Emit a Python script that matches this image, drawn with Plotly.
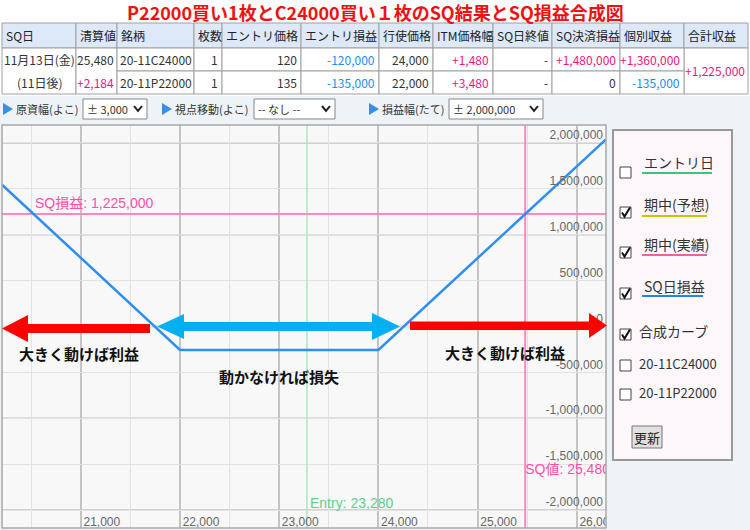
import plotly.graph_objects as go

W, H = 750, 530

# ---------------- data ----------------
underlying = [20205, 22000, 24000, 26295]
sq_pnl = [1545000, -255000, -255000, 2040000]
entry_price = 23280
sq_price = 25480
sq_total = 1225000

x_ticks = [21000, 22000, 23000, 24000, 25000, 26000]
x_tick_labels = ["21,000", "22,000", "23,000", "24,000", "25,000", "26,000"]
y_ticks = [-2000000, -1500000, -1000000, -500000, 0, 500000, 1000000, 1500000, 2000000]
y_tick_labels = ["-2,000,000", "-1,500,000", "-1,000,000", "-500,000", "0",
                 "500,000", "1,000,000", "1,500,000", "2,000,000"]
y_major = [-2000000, -1000000, 0, 1000000, 2000000]

title = "P22000買い1枚とC24000買い１枚のSQ結果とSQ損益合成図"
table_header = ["SQ日", "清算値", "銘柄", "枚数", "エントリ価格", "エントリ損益", "行使価格",
                "ITM価格幅", "SQ日終値", "SQ決済損益", "個別収益", "合計収益"]
sq_day = ["11月13日(金)", "(11日後)"]
settle = ["25,480", "+2,184"]
symbols = ["20-11C24000", "20-11P22000"]
lots = ["1", "1"]
entry_prices = ["120", "135"]
entry_pnl = ["-120,000", "-135,000"]
strikes = ["24,000", "22,000"]
itm_width = ["+1,480", "+3,480"]
sq_close = ["-", "-"]
sq_settle_pnl = ["+1,480,000", "0"]
indiv_pnl = ["+1,360,000", "-135,000"]
total_pnl = "+1,225,000"

controls = [("原資幅(よこ)", "± 3,000"), ("視点移動(よこ)", "-- なし --"), ("損益幅(たて)", "± 2,000,000")]
legend_items = [("エントリ日", False, "#3cc47c"), ("期中(予想)", True, "#c8c400"),
                ("期中(実績)", True, "#f0609a"), ("SQ日損益", True, "#1e88f0")]
extra_items = [("合成カーブ", True), ("20-11C24000", False), ("20-11P22000", False)]

# ---------------- helpers ----------------
JP = "Noto Sans CJK JP"
AR = "Liberation Sans, Noto Sans CJK JP"
PINK_T = "#e8197d"
BLUE_T = "#1a8cff"

shapes = []
annots = []


def rect(x0, y0, x1, y1, fill=None, line=None, lw=1, layer="above"):
    d = dict(type="rect", xref="paper", yref="paper", x0=x0 / W, x1=x1 / W,
             y0=1 - y1 / H, y1=1 - y0 / H, layer=layer,
             line=dict(color=line or "rgba(0,0,0,0)", width=lw if line else 0))
    if fill:
        d["fillcolor"] = fill
    shapes.append(d)


def path(pts, fill=None, line=None, lw=1, closed=True, layer="above"):
    s = "M " + " L ".join(f"{x / W:.5f},{1 - y / H:.5f}" for x, y in pts)
    if closed:
        s += " Z"
    d = dict(type="path", xref="paper", yref="paper", path=s, layer=layer,
             line=dict(color=line or "rgba(0,0,0,0)", width=lw if line else 0))
    if fill:
        d["fillcolor"] = fill
    shapes.append(d)


def text(x, y, t, size=12, color="#333", anchor="left", family=JP, bold=False):
    annots.append(dict(x=x / W, y=1 - y / H, xref="paper", yref="paper", text=t,
                       showarrow=False, xanchor=anchor, yanchor="middle",
                       font=dict(size=size, color=color, family=family,
                                 weight="bold" if bold else "normal")))


def vcolor(v):
    if v.startswith("+"):
        return PINK_T
    if v.startswith("-") and len(v) > 1 and v[1].isdigit():
        return BLUE_T
    return "#333"


# ---------------- page background ----------------
rect(0, 0, 750, 96, fill="white", layer="below")

# ---------------- title ----------------
text(375, 12, title, size=18, color="#ee1111", anchor="center", bold=True)

# ---------------- table ----------------
cx = [2, 76, 117, 194, 222, 301, 379, 433, 493, 552, 620, 684, 748]
ry = [23, 48, 71, 94]
for i, h in enumerate(table_header):
    rect(cx[i], ry[0], cx[i + 1], ry[1], fill="#dde8f8", line="#a0a0a0", lw=1)
    text(cx[i] + 2, (ry[0] + ry[1]) / 2, h, size=12, color="#222")
for i in (0, 1, 11):
    rect(cx[i], ry[1], cx[i + 1], ry[3], fill="white", line="#a0a0a0", lw=1)
for r in range(2):
    for i in range(2, 11):
        rect(cx[i], ry[1 + r], cx[i + 1], ry[2 + r], fill="white", line="#a0a0a0", lw=1)

text((cx[0] + cx[1]) / 2, 60, sq_day[0], anchor="center")
text((cx[0] + cx[1]) / 2, 83, sq_day[1], anchor="center")
text(cx[2] - 1, 60, settle[0], color=vcolor(settle[0]), anchor="right")
text(cx[2] - 1, 83, settle[1], color=vcolor(settle[1]), anchor="right")
text(cx[12] - 1, 71, total_pnl, color=vcolor(total_pnl), anchor="right")
cols = [symbols, lots, entry_prices, entry_pnl, strikes, itm_width, sq_close, sq_settle_pnl, indiv_pnl]
for r in range(2):
    yc = (ry[1 + r] + ry[2 + r]) / 2
    for j, col in enumerate(cols):
        i = j + 2
        v = col[r]
        if j == 0:
            text(cx[i] + 1, yc, v, color="#333")
        else:
            text(cx[i + 1] - 2, yc, v, color=vcolor(v), anchor="right")

# ---------------- controls row ----------------
tri_x = [3, 162, 369]
sel = [(83, 147), (254, 335), (449, 543)]
cy = 109
for (lab, val), tx, (s0, s1) in zip(controls, tri_x, sel):
    path([(tx, cy - 6), (tx + 10, cy), (tx, cy + 6)], fill="#3a8ee6")
    text(tx + 11, cy, lab, size=11, color="#333")
    rect(s0, cy - 10, s1, cy + 10, fill="white", line="#888", lw=1)
    text(s0 + 2, cy, val, size=11, color="#333")
    path([(s1 - 13, cy - 3), (s1 - 9, cy + 2), (s1 - 5, cy - 3)], line="#222", lw=2, closed=False)

# ---------------- chart lines/grids ----------------
for v in y_major:
    shapes.append(dict(type="line", xref="paper", yref="y", x0=2 / W, x1=606 / W, y0=v, y1=v,
                       layer="between", line=dict(color="#c4c4c4", width=1.5)))
shapes.append(dict(type="line", xref="x", yref="y", x0=entry_price, x1=entry_price,
                   y0=-2196000, y1=2196000, layer="between", line=dict(color="#a8e8c0", width=1.5)))
shapes.append(dict(type="line", xref="x", yref="y", x0=sq_price, x1=sq_price,
                   y0=-2196000, y1=2196000, layer="between", line=dict(color="#ff88c4", width=2)))
shapes.append(dict(type="line", xref="x", yref="y", x0=20205, x1=26295, y0=sq_total, y1=sq_total,
                   layer="between", line=dict(color="#ff88c4", width=2)))

# mask overflow right of plot, then border
rect(606.5, 125, 750, 530, fill="#eef3f8", layer="above")
rect(2, 125, 606, 528, line="#a8a8a8", lw=1.5, layer="above")

# arrows
path([(2, 328.5), (28, 315), (28, 324), (150, 324), (150, 333), (28, 333), (28, 342)], fill="#ff0000")
path([(157, 326.5), (184, 314), (184, 322), (372, 322), (372, 313), (400, 326.5),
      (372, 340), (372, 331), (184, 331), (184, 339)], fill="#00b0f0")
path([(410, 321.5), (589, 321.5), (589, 313), (607, 325.5), (589, 338), (589, 330), (410, 330)],
     fill="#ff0000")

text(17, 353, "大きく動けば利益", size=15, color="#111", bold=True)
text(217, 376, "動かなければ損失", size=15, color="#111", bold=True)
text(443, 352, "大きく動けば利益", size=15, color="#111", bold=True)

annots.append(dict(x=20520, y=sq_total, xref="x", yref="y", yshift=1, text="SQ損益: 1,225,000",
                   showarrow=False, xanchor="left", yanchor="bottom",
                   font=dict(size=14, color="#ff4fa8", family=AR)))
annots.append(dict(x=entry_price, y=-1920000, xref="x", yref="y", text="Entry: 23,280",
                   showarrow=False, xanchor="left", yanchor="middle", xshift=1,
                   font=dict(size=14, color="#5cd08a", family=AR)))

# ---------------- right panel ----------------
rect(613, 130, 732, 460, fill="#fdf7fc", line="#999", lw=2)


def checkbox(x0, y0, checked):
    rect(x0, y0, x0 + 11, y0 + 11, fill="white", line="#444", lw=1)
    if checked:
        path([(x0 + 2, y0 + 5.5), (x0 + 4.5, y0 + 9.5), (x0 + 10, y0 + 0.5)],
             line="#111", lw=2, closed=False)


leg_y = [(162, 167, 173, 712), (204, 207, 216, 707), (244, 247, 255, 707), (286, 288, 296, 703)]
for (lab, chk, col), (ty, by, uy, ux) in zip(legend_items, leg_y):
    checkbox(620, by, chk)
    text(642, ty, lab, size=14, color="#333")
    shapes.append(dict(type="line", xref="paper", yref="paper", x0=642 / W, x1=ux / W,
                       y0=1 - uy / H, y1=1 - uy / H, line=dict(color=col, width=2)))
ext_y = [(331, 329), (363, 360), (392, 389)]
for (lab, chk), (ty, by) in zip(extra_items, ext_y):
    checkbox(620, by, chk)
    text(637, ty, lab, size=14 if not lab[0].isdigit() else 13, color="#333")
rect(632, 426, 662, 448, fill="#e0e0e0", line="#777", lw=1)
text(647, 437, "更新", size=13, color="#222", anchor="center")

# ---------------- figure ----------------
fig = go.Figure()
fig.add_trace(go.Scatter(x=underlying, y=sq_pnl, mode="lines",
                         line=dict(color="#2e8ff0", width=2.5), hoverinfo="skip"))
fig.add_trace(go.Scatter(x=[sq_price], y=[-1565000], mode="text", text=["SQ値: 25,480"],
                         textposition="middle right",
                         textfont=dict(size=14, color="#ff4fa8", family=AR), hoverinfo="skip"))

fig.update_layout(
    width=W, height=H, margin=dict(l=0, r=0, t=0, b=0, pad=0, autoexpand=False),
    paper_bgcolor="#eef3f8", plot_bgcolor="#f8f8f8",
    showlegend=False, font=dict(family=JP),
    xaxis=dict(domain=[2 / W, 606 / W], range=[20205, 26295], automargin=False,
               tickvals=x_ticks, ticktext=x_tick_labels,
               ticklabelposition="inside", ticklabelshift=21, ticklabelstandoff=-3,
               ticklabeloverflow="allow",
               tickfont=dict(size=12, color="#666", family=AR),
               showgrid=True, gridcolor="#c4c4c4", gridwidth=1.5,
               minor=dict(tickmode="linear", tick0=0, dtick=500, showgrid=True,
                          gridcolor="#e2e2e2", gridwidth=1),
               zeroline=False, showline=False, ticks=""),
    yaxis=dict(domain=[2 / H, 405 / H], range=[-2196000, 2196000], side="right", automargin=False,
               tickvals=y_ticks, ticktext=y_tick_labels,
               ticklabelposition="inside", ticklabelshift=-8, ticklabeloverflow="allow",
               tickfont=dict(size=12, color="#666", family=AR),
               showgrid=True, gridcolor="#e2e2e2", gridwidth=1,
               zeroline=False, showline=False, ticks=""),
    shapes=shapes, annotations=annots,
)
fig.write_html("out.html", config={"displayModeBar": False, "responsive": False},
               post_script="document.body.style.margin='0';document.body.style.overflow='hidden';")
